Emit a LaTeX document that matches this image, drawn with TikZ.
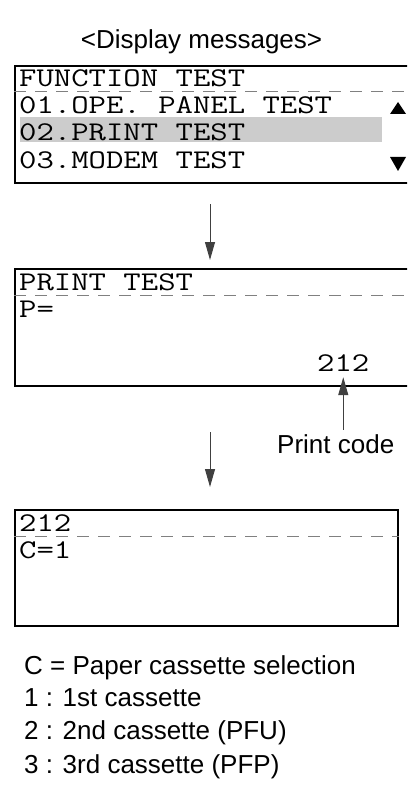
\documentclass[tikz,border=0pt]{standalone}
\usepackage{fontspec}
\setmainfont{Liberation Sans}
\newfontfamily\lcdfont[FakeStretch=1.25]{Latin Modern Mono}
\usetikzlibrary{arrows.meta}

\begin{document}
\begin{tikzpicture}[x=1pt,y=-1pt]
	\tikzstyle{ligne}=[anchor=base west, inner sep=0pt, font=\lcdfont\fontsize{27}{27}\selectfont]
	\tikzstyle{legende}=[anchor=base west, inner sep=0pt, font=\fontsize{26}{26}\selectfont]
	\tikzstyle{ecran}=[draw, line width=1.8pt, anchor=north west, minimum height=117pt, inner sep=0pt]
	\tikzstyle{tirets}=[gray, line width=1pt, dash pattern=on 12pt off 9pt]
	\tikzstyle{fleche}=[black!75, line width=1pt, -{Triangle[length=18pt,width=10pt]}]
	\clip (0,0) rectangle (407,805);
	\node[legende, anchor=base] (T) at (201.5,49){<Display messages>};
%	premier ecran
	\fill[black!20] (20,117) rectangle (382,142);
	\node[ecran, minimum width=410pt] (E1) at (14,65){};
	\draw[tirets] (E1.west |- 0,92) -- (E1.east |- 0,92);
	\node[ligne] (L0) at (19,87){FUNCTION TEST};
	\node[ligne] (L1) at (19,114){01.OPE. PANEL TEST};
	\node[ligne] (L2) at (19,141){02.PRINT TEST};
	\node[ligne] (L3) at (19,168){03.MODEM TEST};
	\fill (390,114) -- (406,114) -- (398,102) -- cycle;
	\fill (390,157) -- (406,157) -- (398,171) -- cycle;
	\coordinate (A1) at (210,204);
	\coordinate (A2) at (210,260);
	\draw[fleche] (A1) -- (A2);
%	deuxieme ecran
	\node[ecran, minimum width=410pt] (E2) at (14,268){};
	\draw[tirets] (E2.west |- 0,295) -- (E2.east |- 0,295);
	\node[ligne] (P0) at (19,290){PRINT TEST};
	\node[ligne] (P1) at (19,317){P=};
	\node[ligne] (P2) at (317,371){212};
	\node[legende] (PC) at (277,453){Print code};
	\draw[fleche] ([yshift=4pt]PC.north -| P2.south) -- ([yshift=-6pt]P2.south);
	\coordinate (B1) at (210,432);
	\coordinate (B2) at (210,487);
	\draw[fleche] (B1) -- (B2);
%	troisieme ecran
	\node[ecran, minimum width=383pt, minimum height=116pt] (E3) at (14,509){};
	\draw[tirets] (E3.west |- 0,536) -- (E3.east |- 0,536);
	\node[ligne] (C0) at (19,531){212};
	\node[ligne] (C1) at (19,558){C=1};
	\node[legende] (G0) at (24,674){C = Paper cassette selection};
	\node[legende] (G1) at (24,706){1 : 1st cassette};
	\node[legende] (G2) at (24,739){2 : 2nd cassette (PFU)};
	\node[legende] (G3) at (24,773){3 : 3rd cassette (PFP)};
%	\draw[fleche] (P2) -- (PC);
\end{tikzpicture}
\end{document}
